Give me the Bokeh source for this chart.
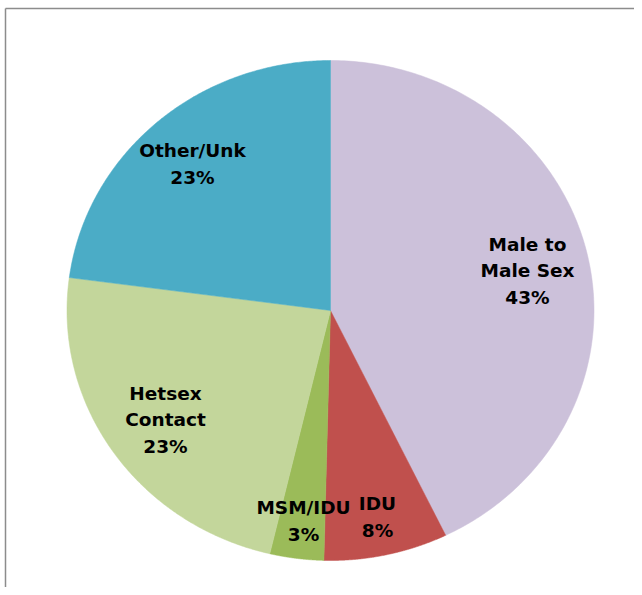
import numpy as np
from bokeh.plotting import figure
from bokeh.models import Range1d
from bokeh.core.properties import value
from bokeh.embed import file_html
from bokeh.resources import INLINE

# ---- data ----
categories = ["Male to Male Sex", "IDU", "MSM/IDU", "Hetsex Contact", "Other/Unk"]
shares = [42.8, 7.6, 3.3, 23.4, 22.9]
label_lines = [["Male to", "Male Sex", "43%"], ["IDU", "8%"], ["MSM/IDU", "3%"],
               ["Hetsex", "Contact", "23%"], ["Other/Unk", "23%"]]
colors = ["#CCC1DA", "#C0504D", "#9BBB59", "#C3D69B", "#4BACC6"]

# ---- layout (pixel-like data units, y downward) ----
W, H = 634, 587
cx, cy, rx, ry = 330, 310, 263.5, 250
label_pos = [(527, 270), (377, 516.5), (303, 520.5), (165, 419), (192, 163.5)]
line_gap = 26.5

p = figure(width=W, height=H, output_backend="svg", toolbar_location=None,
           x_range=Range1d(0, W), y_range=Range1d(H, 0),
           min_border=0, outline_line_color=None)
p.axis.visible = False
p.grid.visible = False

vals = np.array(shares, dtype=float)
cum = np.concatenate([[0], np.cumsum(vals) / vals.sum()])
for i in range(len(vals)):
    th = np.linspace(cum[i], cum[i + 1], 200) * 2 * np.pi
    xs = np.concatenate([[cx], cx + rx * np.sin(th), [cx]])
    ys = np.concatenate([[cy], cy - ry * np.cos(th), [cy]])
    p.patch(xs, ys, fill_color=colors[i], line_color=colors[i], line_width=0.5)

# border (left and top of the chart area)
p.line([5, 5], [H + 5, 8], line_color="#8c8c8c", line_width=1.5)
p.line([5, W + 5], [8, 8], line_color="#8c8c8c", line_width=1.5)

tx, ty, tt = [], [], []
for (lx, ly), lines in zip(label_pos, label_lines):
    n = len(lines)
    for j, t in enumerate(lines):
        tx.append(lx)
        ty.append(ly + (j - (n - 1) / 2) * line_gap)
        tt.append(t)
p.text(x=tx, y=ty, text=tt, text_align="center", text_baseline="middle",
       text_font=value("DejaVu Sans"), text_font_style="bold",
       text_font_size="18.5px", text_color="#000000")

open("out.html", "w").write(file_html(p, INLINE))
